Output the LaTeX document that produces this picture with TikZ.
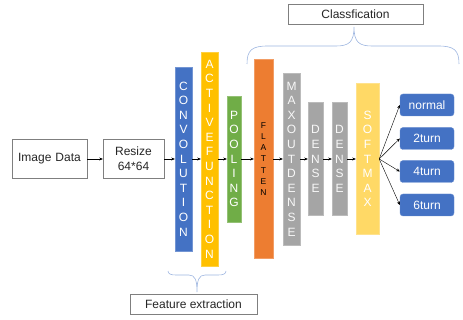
\documentclass[tikz,border=0pt]{standalone}
\usepackage{fontspec}
\setmainfont{Liberation Sans}
\usepackage{xcolor}
\usepackage{tikz}
\usetikzlibrary{arrows.meta,positioning}
\definecolor{convblue}{HTML}{4472C4}
\definecolor{actyellow}{HTML}{FFC000}
\definecolor{poolgreen}{HTML}{70AD47}
\definecolor{flatorange}{HTML}{ED7D31}
\definecolor{densegray}{HTML}{A5A5A5}
\definecolor{softyellow}{HTML}{FFD966}
\definecolor{boxgray}{HTML}{7F7F7F}
\definecolor{bracecol}{HTML}{9DB5E0}

\begin{document}
\begin{tikzpicture}[x=1pt,y=-1pt,thin,>={Stealth[length=3.5pt,width=3pt]},
    text box/.style={draw=boxgray,fill=white,inner sep=0pt,align=center,text=black!85,font=\fontsize{12}{15}\selectfont},
    layer/.style={fill=#1,draw=#1!75!white,inner sep=0pt,align=center,text=white,font=\fontsize{12}{14.6}\selectfont},
    out node/.style={fill=convblue,draw=convblue!80!white,rounded corners=3pt,minimum width=54pt,minimum height=22pt,inner sep=0pt,text=white,font=\fontsize{12}{14}\selectfont},
    brace line/.style={draw=bracecol,line width=0.6pt}]
\useasboundingbox (0,0) rectangle (463,320);

%Input boxes
  \node[text box,minimum width=75pt,minimum height=39pt] (image) at (49.5,159) {Image\,\,Data};
  \node[text box,minimum width=61pt,minimum height=39pt] (resize) at (133.5,159) {Resize\\64*64};

%Feature layers
  \node[layer=convblue,minimum width=17pt,minimum height=184pt] (conv) at (183.5,159)
     {C\\O\\N\\V\\O\\L\\U\\T\\I\\O\\N};
  \node[layer=actyellow,minimum width=17pt,minimum height=214pt] (act) at (209.5,159)
     {A\\C\\T\\I\\V\\E\\F\\U\\N\\C\\T\\I\\O\\N};
  \node[layer=poolgreen,minimum width=14pt,minimum height=126pt] (pool) at (234,159)
     {P\\O\\O\\L\\I\\N\\G};

%Classification layers
  \node[layer=flatorange,minimum width=19pt,minimum height=199pt,text=black,
        font=\fontsize{8.5}{11.3}\selectfont] (flat) at (263.5,159)
     {F\\L\\A\\T\\T\\E\\N};
  \node[layer=densegray,minimum width=17pt,minimum height=172pt,text=white!92!densegray] (maxout) at (291.5,159)
     {M\\A\\X\\O\\U\\T\\D\\E\\N\\S\\E};
  \node[layer=densegray,minimum width=15pt,minimum height=113pt,text=white!92!densegray] (dense1) at (315.5,159)
     {D\\E\\N\\S\\E};
  \node[layer=densegray,minimum width=15pt,minimum height=113pt,text=white!92!densegray] (dense2) at (339.5,159)
     {D\\E\\N\\S\\E};
  \node[layer=softyellow,minimum width=23pt,minimum height=151pt] (soft) at (367.5,159)
     {S\\O\\F\\T\\M\\A\\X};

  \foreach \a/\b in {image/resize,resize/conv,conv/act,act/pool,pool/flat,flat/maxout,maxout/dense1,dense1/dense2,dense2/soft}
    \draw[->] (\a) -- (\b);

%Outputs
  \foreach \n/\y/\t in {normal/105/normal,two/138.5/2turn,four/171.5/4turn,six/205/6turn}
    {\node[out node] (\n) at (427,\y) {\t};
     \draw[->] (soft.east) -- (\n.west);}

%Group labels
  \node[text box,minimum width=135pt,minimum height=20pt] (classlabel) at (355.5,14) {Classfication};
  \node[text box,minimum width=127pt,minimum height=20pt] (featlabel) at (193.5,304) {Feature extraction};

  \draw[brace line] (247,64) .. controls (247,50) and (252,46) .. (268,46) -- (336,46)
     .. controls (349,46) and (354,42) .. (354,27) .. controls (354,42) and (359,46) .. (372,46)
     -- (438,46) .. controls (454,46) and (459,50) .. (459,64);
  \draw[brace line] (168,271) .. controls (168,274) and (171,275) .. (176,275) -- (189,275)
     .. controls (195,275) and (197,280) .. (197,292) .. controls (197,280) and (199,275) .. (205,275)
     -- (218,275) .. controls (223,275) and (226,274) .. (226,271);

\end{tikzpicture}
\end{document}
